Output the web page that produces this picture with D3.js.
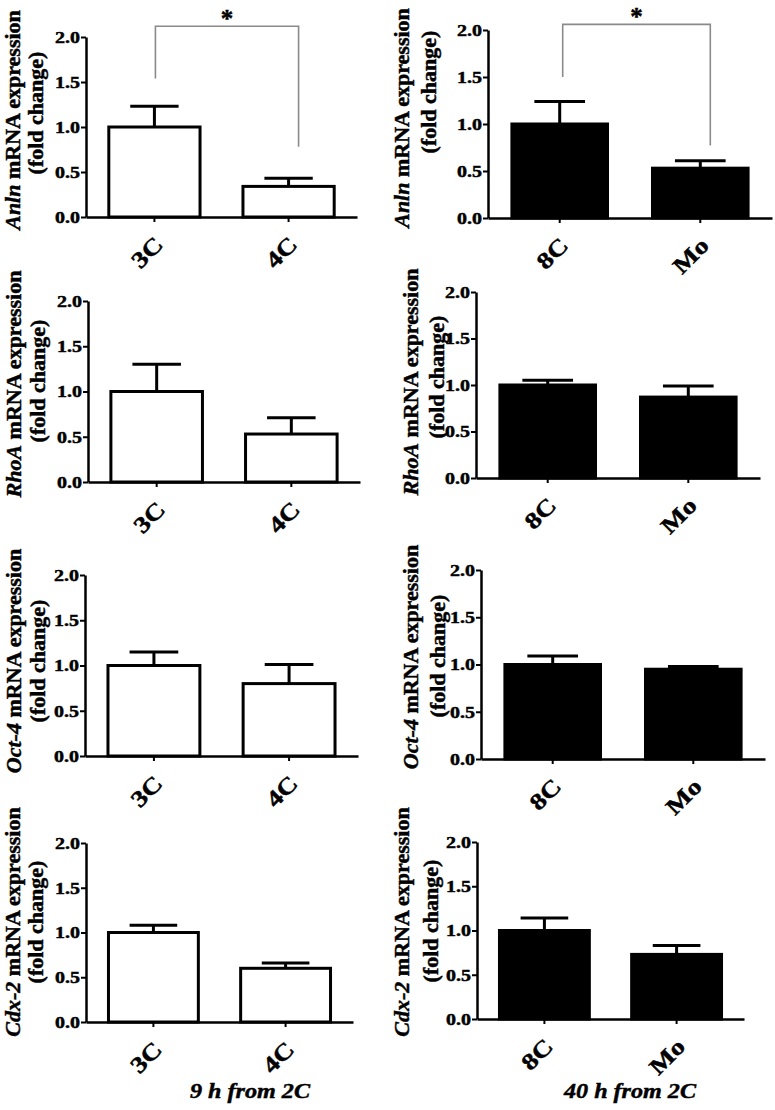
<!DOCTYPE html>
<html>
<head>
<meta charset="utf-8">
<script src="https://cdn.jsdelivr.net/npm/d3@7/dist/d3.min.js"></script>
<style>
  html, body { margin: 0; padding: 0; background: #fff; }
  svg { display: block; }
  text { font-family: "Liberation Serif", "Times New Roman", serif; font-weight: bold; fill: #000; stroke: #000; stroke-width: 0.45px; }
</style>
</head>
<body>
<svg id="chart" width="775" height="1110"></svg>
<script>
// ---------------- data ----------------
const genes = ["Anln", "RhoA", "Oct-4", "Cdx-2"];
const earlyStages = ["3C", "4C"];
const lateStages = ["8C", "Mo"];
const earlyMean  = [[1.00, 0.34], [1.00, 0.53], [1.00, 0.80], [1.00, 0.60]];
const earlyUpper = [[1.23, 0.43], [1.30, 0.71], [1.15, 1.01], [1.08, 0.66]];
const lateMean   = [[1.00, 0.53], [1.00, 0.87], [1.00, 0.95], [1.00, 0.73]];
const lateUpper  = [[1.24, 0.61], [1.05, 0.99], [1.09, 0.98], [1.14, 0.83]];
const yTicks = [0, 0.5, 1.0, 1.5, 2.0];
const yDomain = [0, 2.0];
const groupTitles = ["9 h from 2C", "40 h from 2C"];
const yLabelGene = " mRNA expression";
const yLabelSub = "(fold change)";
// significance brackets: [bracket top, left leg bottom, right leg bottom] in data units
const sigGene = ["Anln", "Anln"];
const sigCol = [0, 1];
const sigLevels = [[2.12, 1.54, 0.78], [2.06, 1.50, 0.77]];
const sigMark = ["*", "*"];

// ---------------- layout (pixels) ----------------
const layout = [
  [ {x0:86, x1:357, yt:37,  yb:217,  l1:20,  l2:43,  c1:120, c2:113},
    {x0:488,x1:772, yt:30,  yb:218,  l1:409, l2:436, c1:118, c2:92} ],
  [ {x0:88, x1:360, yt:301, yb:482,  l1:21,  l2:45,  c1:384, c2:381},
    {x0:476,x1:760, yt:292, yb:478,  l1:418, l2:444, c1:382, c2:377} ],
  [ {x0:85, x1:358, yt:575, yb:756,  l1:21,  l2:45,  c1:661, c2:661},
    {x0:481,x1:765, yt:570, yb:759,  l1:418, l2:445, c1:657, c2:656} ],
  [ {x0:86, x1:353, yt:843, yb:1022, l1:20,  l2:43,  c1:922, c2:922},
    {x0:477,x1:744, yt:842, yb:1019, l1:409, l2:438, c1:922, c2:921} ]
];
const sigX = [[1, 10], [3, 10]];      // leg x offsets from band centers
const sigStarY = [27, 25];
const titleX = [250, 630];
const titleY = 1098;

const svg = d3.select("#chart");
svg.append("rect").attr("width", 775).attr("height", 1110).attr("fill", "#fff");

genes.forEach((gene, r) => {
  [0, 1].forEach(c => {
    const L = layout[r][c];
    const stages = c === 0 ? earlyStages : lateStages;
    const means = c === 0 ? earlyMean[r] : lateMean[r];
    const uppers = c === 0 ? earlyUpper[r] : lateUpper[r];
    const fill = c === 0 ? "#fff" : "#000";

    const x = d3.scaleBand().domain(stages).range([L.x0, L.x1])
      .paddingInner(0.32).paddingOuter(0.17);
    const y = d3.scaleLinear().domain(yDomain).range([L.yb, L.yt]);

    const g = svg.append("g");
    const rows = stages.map((s, i) => ({stage: s, mean: means[i], upper: uppers[i]}));

    // error bars (upper only)
    const capW = x.bandwidth() * 0.53;
    const eb = g.append("g").attr("stroke", "#000").attr("stroke-width", 3).attr("fill", "none");
    eb.selectAll("line.stem").data(rows).join("line")
      .attr("x1", d => x(d.stage) + x.bandwidth() / 2)
      .attr("x2", d => x(d.stage) + x.bandwidth() / 2)
      .attr("y1", d => y(d.mean)).attr("y2", d => y(d.upper));
    eb.selectAll("line.cap").data(rows).join("line")
      .attr("x1", d => x(d.stage) + x.bandwidth() / 2 - capW / 2)
      .attr("x2", d => x(d.stage) + x.bandwidth() / 2 + capW / 2)
      .attr("y1", d => y(d.upper)).attr("y2", d => y(d.upper));

    // bars
    g.selectAll("rect.bar").data(rows).join("rect")
      .attr("x", d => x(d.stage)).attr("width", x.bandwidth())
      .attr("y", d => y(d.mean)).attr("height", d => y(0) - y(d.mean))
      .attr("fill", fill).attr("stroke", "#000").attr("stroke-width", 3);

    // y axis
    const ya = g.append("g").attr("transform", `translate(${L.x0},0)`)
      .call(d3.axisLeft(y).tickValues(yTicks).tickFormat(d3.format(".1f")).tickSize(5).tickSizeOuter(0));
    ya.select(".domain").attr("stroke-width", 2.5).attr("stroke", "#000");
    ya.selectAll(".tick line").attr("stroke-width", 2).attr("stroke", "#000");
    ya.selectAll(".tick text")
      .attr("x", 0).attr("dy", "0.34em")
      .attr("transform", "translate(-6,0) scale(1.25,1)")
      .style("font-size", "16px").style("font-family", "Liberation Serif, serif").style("font-weight", "bold")
      .attr("fill", "#000");

    // x axis
    const xa = g.append("g").attr("transform", `translate(0,${L.yb})`)
      .call(d3.axisBottom(x).tickSize(5).tickSizeOuter(0));
    xa.select(".domain").attr("stroke-width", 2.5).attr("stroke", "#000");
    xa.selectAll(".tick line").attr("stroke-width", 2).attr("stroke", "#000");
    xa.selectAll(".tick text")
      .attr("x", 0).attr("y", 0).attr("dy", 0)
      .attr("text-anchor", "end")
      .attr("transform", "translate(10,29) rotate(-45) scale(1.2,1)")
      .style("font-size", "23px").style("font-family", "Liberation Serif, serif").style("font-weight", "bold")
      .attr("fill", "#000");

    // y label (two lines)
    const t1 = g.append("text")
      .attr("transform", `translate(${L.l1},${L.c1}) rotate(-90) scale(1.1,1)`)
      .attr("text-anchor", "middle").style("font-size", "20px");
    t1.append("tspan").style("font-style", "italic").text(gene);
    t1.append("tspan").text(yLabelGene);
    g.append("text")
      .attr("transform", `translate(${L.l2},${L.c2}) rotate(-90) scale(1.1,1)`)
      .attr("text-anchor", "middle").style("font-size", "20px")
      .text(yLabelSub);

    // significance bracket
    sigGene.forEach((sg, k) => {
      if (sg !== gene || sigCol[k] !== c) return;
      const lv = sigLevels[k];
      const xl = x(stages[0]) + x.bandwidth() / 2 + sigX[k][0];
      const xr = x(stages[1]) + x.bandwidth() / 2 + sigX[k][1];
      const path = d3.path();
      path.moveTo(xl, y(lv[1])); path.lineTo(xl, y(lv[0]));
      path.lineTo(xr, y(lv[0])); path.lineTo(xr, y(lv[2]));
      g.append("path").attr("d", path.toString()).attr("fill", "none")
        .attr("stroke", "#8a8a8a").attr("stroke-width", 1.6);
      g.append("text").attr("x", (xl + xr) / 2).attr("y", sigStarY[k])
        .attr("text-anchor", "middle").style("font-size", "25px").text(sigMark[k]);
    });
  });
});

// group titles
groupTitles.forEach((t, i) => {
  svg.append("text")
    .attr("transform", `translate(${titleX[i]},${titleY}) scale(1.15,1)`)
    .attr("text-anchor", "middle")
    .style("font-size", "21px").style("font-style", "italic")
    .text(t);
});
</script>
</body>
</html>
